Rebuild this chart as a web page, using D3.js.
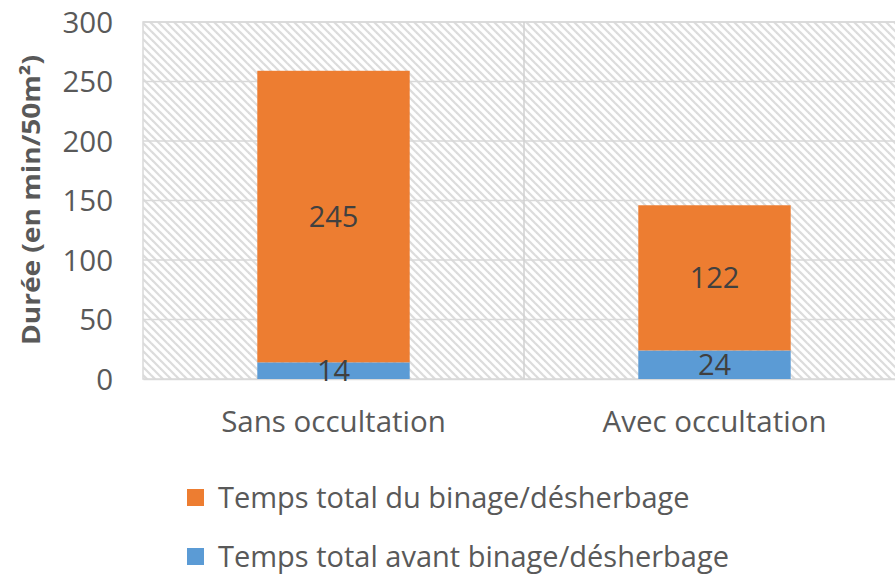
<!DOCTYPE html>
<html><head><meta charset="utf-8">
<script src="https://cdn.jsdelivr.net/npm/d3@7"></script>
<style>body{margin:0;background:#fff}svg{display:block}</style>
</head><body>
<svg id="c" width="895" height="575"></svg>
<script>
const categories = ["Sans occultation", "Avec occultation"];
const avant = [14, 24];
const binage = [245, 122];
const yTicks = [0, 50, 100, 150, 200, 250, 300];
const seriesNames = ["Temps total du binage/désherbage", "Temps total avant binage/désherbage"];
const colors = ["#ED7D31", "#5B9BD5"];
const yTitle = "Durée (en min/50m²)";

(function () {
const svg = d3.select("#c");
const font = "'Open Sans', sans-serif";
const fs = 29.5;
const pL = 143, pR = 905, pT = 22, pB = 379;
const x = d3.scaleBand().domain(categories).range([pL, pR]).padding(0);
const y = d3.scaleLinear().domain([0, 300]).range([pB, pT]);

const defs = svg.append("defs");
const pat = defs.append("pattern").attr("id", "hatch").attr("patternUnits", "userSpaceOnUse")
  .attr("width", 8).attr("height", 8);
pat.append("rect").attr("width", 8).attr("height", 8).attr("fill", "#fff");
[[-2, 6, 2, 10], [0, 0, 8, 8], [6, -2, 10, 2]].forEach(([a, b, c, d]) =>
  pat.append("line").attr("x1", a).attr("y1", b).attr("x2", c).attr("y2", d)
    .attr("stroke", "#dcdcdc").attr("stroke-width", 2.2));

svg.append("rect").attr("x", pL).attr("y", pT).attr("width", pR - pL).attr("height", pB - pT)
  .attr("fill", "url(#hatch)");
svg.append("rect").attr("x", pL).attr("y", pT).attr("width", pR - pL).attr("height", pB - pT)
  .attr("fill", "none").attr("stroke", "#d9d9d9").attr("stroke-width", 1.5);

svg.append("g").selectAll("line").data(yTicks.slice(1)).join("line")
  .attr("x1", pL).attr("x2", pR).attr("y1", d => y(d)).attr("y2", d => y(d))
  .attr("stroke", "#d9d9d9").attr("stroke-width", 1.5);
svg.append("line").attr("x1", x(categories[1])).attr("x2", x(categories[1]))
  .attr("y1", pT).attr("y2", pB).attr("stroke", "#d0d0d0").attr("stroke-width", 1.5);

const yAxis = d3.axisLeft(y).tickValues(yTicks).tickSize(0).tickPadding(30);
const gy = svg.append("g").attr("transform", `translate(${pL},0)`).call(yAxis);
gy.select(".domain").remove();
gy.selectAll("text").attr("font-family", font).attr("font-size", fs).attr("fill", "#595959")
  .attr("dy", "0.35em");

const xAxis = d3.axisBottom(x).tickSize(0).tickPadding(32);
const gx = svg.append("g").attr("transform", `translate(0,${pB})`).call(xAxis);
gx.select(".domain").attr("stroke", "#d9d9d9").attr("stroke-width", 1.5);
gx.selectAll("text").attr("font-family", font).attr("font-size", fs).attr("fill", "#595959");

const bw = x.bandwidth() * 0.4;
const stacked = categories.map((c, i) => ({c, a: avant[i], b: binage[i]}));
const g = svg.append("g");
g.selectAll(".ba").data(stacked).join("rect")
  .attr("x", d => x(d.c) + (x.bandwidth() - bw) / 2).attr("width", bw)
  .attr("y", d => y(d.a)).attr("height", d => y(0) - y(d.a)).attr("fill", colors[1]);
g.selectAll(".bb").data(stacked).join("rect")
  .attr("x", d => x(d.c) + (x.bandwidth() - bw) / 2).attr("width", bw)
  .attr("y", d => y(d.a + d.b)).attr("height", d => y(d.a) - y(d.a + d.b)).attr("fill", colors[0]);

g.selectAll(".la").data(stacked).join("text")
  .attr("x", d => x(d.c) + x.bandwidth() / 2).attr("y", d => y(d.a / 2))
  .attr("dy", "0.35em").attr("text-anchor", "middle")
  .attr("font-family", font).attr("font-size", 29).attr("fill", "#404040").text(d => d.a);
g.selectAll(".lb").data(stacked).join("text")
  .attr("x", d => x(d.c) + x.bandwidth() / 2).attr("y", d => y(d.a + d.b / 2))
  .attr("dy", "0.35em").attr("text-anchor", "middle")
  .attr("font-family", font).attr("font-size", 29).attr("fill", "#404040").text(d => d.b);

svg.append("text").attr("transform", `translate(40,${200}) rotate(-90)`)
  .attr("text-anchor", "middle").attr("font-family", font).attr("font-weight", "bold")
  .attr("font-size", 25).attr("textLength", 290).attr("lengthAdjust", "spacingAndGlyphs")
  .attr("fill", "#595959").text(yTitle);

const leg = svg.append("g");
seriesNames.forEach((n, i) => {
  const ly = 498 + i * 59;
  leg.append("rect").attr("x", 187).attr("y", ly - 9).attr("width", 17).attr("height", 17).attr("fill", colors[i]);
  leg.append("text").attr("x", 218).attr("y", ly).attr("dy", "0.35em")
    .attr("font-family", font).attr("font-size", 29).attr("fill", "#595959").text(n);
});
})();
</script>
</body></html>
